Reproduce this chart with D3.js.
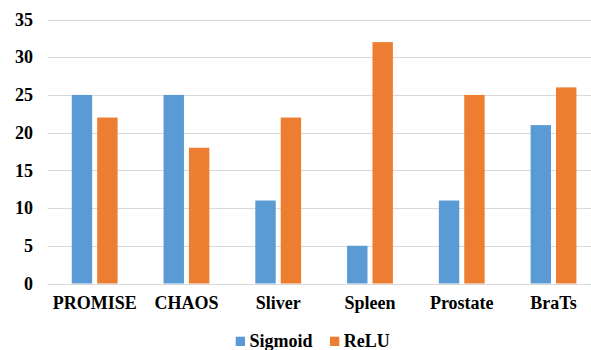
<!DOCTYPE html>
<html>
<head>
<meta charset="utf-8">
<script src="https://cdn.jsdelivr.net/npm/d3@7"></script>
<style>
  html, body { margin: 0; padding: 0; background: #fff; }
  svg { display: block; }
  svg text { font-family: 'Liberation Serif', 'Times New Roman', Tinos, serif; font-weight: bold; }
</style>
</head>
<body>
<svg id="chart" width="591" height="350" font-family="'Liberation Serif', 'Times New Roman', serif"></svg>
<script>
// Datasets and scores per activation function
const categories = ["PROMISE", "CHAOS", "Sliver", "Spleen", "Prostate", "BraTs"];
const seriesNames = ["Sigmoid", "ReLU"];
const sigmoidValues = [25, 25, 11, 5, 11, 21];
const reluValues = [22, 18, 22, 32, 25, 26];
const yTicks = [0, 5, 10, 15, 20, 25, 30, 35];
const colors = ["#5B9BD5", "#ED7D31"];

const FONT = "'Liberation Serif', 'Times New Roman', Tinos, serif";

const svg = d3.select("#chart");

function styleText(sel) {
  sel.attr("font-family", null)
    .style("font-family", FONT)
    .style("font-weight", "bold")
    .style("font-size", "18px")
    .style("fill", "#000");
}

const x = d3.scaleBand().domain(categories).range([48.8, 599.4]).paddingInner(0).paddingOuter(0);
const y = d3.scaleLinear().domain([0, 35]).range([283.5, 19.5]);

const barW = 20.4;
const barGap = 5;
const groupW = barW * 2 + barGap;

// Horizontal gridlines
svg.append("g")
  .selectAll("line")
  .data(yTicks)
  .join("line")
  .attr("x1", 48)
  .attr("x2", 591)
  .attr("y1", d => Math.round(y(d)) + 0.5)
  .attr("y2", d => Math.round(y(d)) + 0.5)
  .attr("stroke", "#d9d9d9")
  .attr("stroke-width", 1.2);

// Y axis labels
const yAxis = d3.axisLeft(y).tickValues(yTicks).tickSize(0).tickPadding(0);
const yg = svg.append("g").attr("transform", "translate(33,0)").call(yAxis);
yg.attr("font-family", null).attr("font-size", null);
yg.select(".domain").remove();
yg.selectAll("text").call(styleText);

// Bars
const data = categories.map((c, i) => ({ cat: c, vals: [sigmoidValues[i], reluValues[i]] }));
const groups = svg.append("g")
  .selectAll("g")
  .data(data)
  .join("g")
  .attr("transform", d => `translate(${x(d.cat) + x.bandwidth() / 2 - groupW / 2},0)`);

groups.selectAll("rect")
  .data(d => d.vals.map((v, j) => ({ v, j })))
  .join("rect")
  .attr("x", d => d.j * (barW + barGap))
  .attr("y", d => y(d.v))
  .attr("width", barW)
  .attr("height", d => y(0) - y(d.v))
  .attr("fill", d => colors[d.j]);

// X axis labels
const xAxis = d3.axisBottom(x).tickSize(0).tickPadding(0);
const xg = svg.append("g").attr("transform", "translate(0,296)").call(xAxis);
xg.attr("font-family", null).attr("font-size", null);
xg.select(".domain").remove();
xg.selectAll("text").call(styleText);

// Legend
const legendX = [235.7, 330];
const legend = svg.append("g")
  .selectAll("g")
  .data(seriesNames)
  .join("g")
  .attr("transform", (d, i) => `translate(${legendX[i]},336.7)`);
legend.append("rect")
  .attr("width", 9.3)
  .attr("height", 9.3)
  .attr("fill", (d, i) => colors[i]);
legend.append("text")
  .attr("x", 13.8)
  .attr("y", 10.5)
  .text(d => d)
  .call(styleText);
</script>
</body>
</html>
